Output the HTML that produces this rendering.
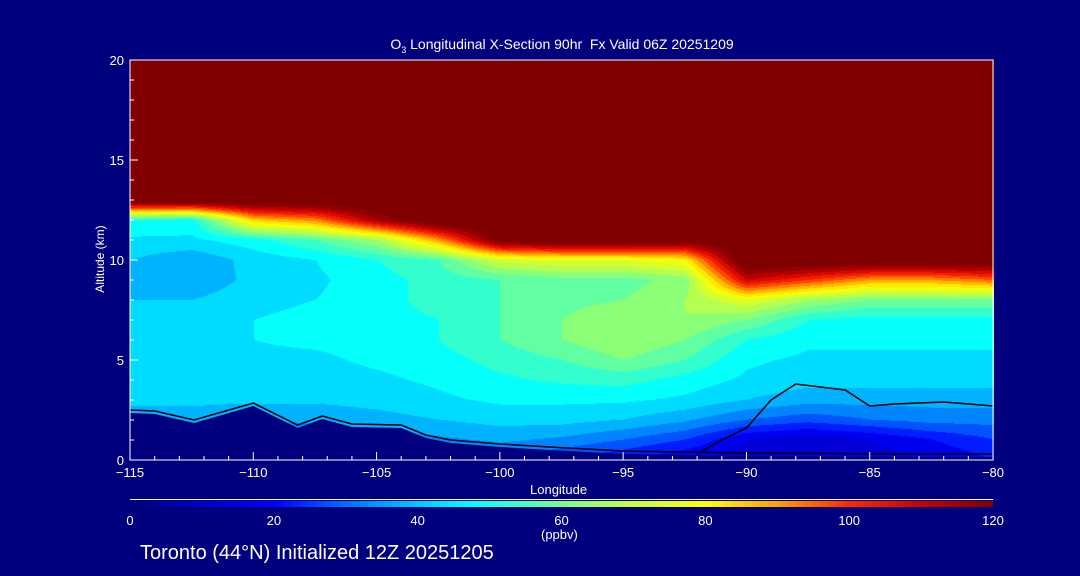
<!DOCTYPE html>
<html><head><meta charset="utf-8"><style>
body{margin:0;background:#00007f;width:1080px;height:576px;overflow:hidden;position:relative;font-family:"Liberation Sans",sans-serif;color:#fff}
canvas{position:absolute;left:130px;top:60px}
svg{position:absolute;left:0;top:0}
</style></head><body>
<canvas id="cv" width="864" height="400"></canvas>
<svg id="sv" width="1080" height="576"></svg>
<script>
const lons=[-115,-112.5,-110,-107.5,-105,-102.5,-100,-97.5,-95,-92.5,-90,-87.5,-85,-82.5,-80];
const alts=[0,1,2,3,4,5,6,7,8,9,10,11,12,13,14,15,16,17,18,19,20];
const ozone=[
[20,20,20,20,20,25,30,25,20,15,12,10,12,15,20],
[32,32,30,30,32,34,36,34,30,25,15,12,15,20,25],
[38,38,36,36,38,40,42,42,40,36,30,27,30,32,32],
[41,41,41,41,42,44,46,46,46,44,40,37,37,37,37],
[42,42,42,43,44,46,49,51,52,48,44,42,42,42,42],
[43,44,44,44,46,48,52,55,60,55,46,44,44,44,44],
[44,44,45,46,47,50,55,60,65,60,50,46,46,46,46],
[43,43,45,46,48,50,55,60,65,65,60,50,48,48,48],
[40,40,44,45,48,52,55,58,60,65,75,65,60,60,60],
[38,35,42,44,48,52,55,58,58,62,110,100,90,90,95],
[40,36,42,45,50,55,72,75,75,80,130,130,130,130,130],
[44,44,48,55,65,90,125,130,130,125,130,130,130,130,130],
[50,48,85,92,115,130,130,130,130,130,130,130,130,130,130],
[130,130,130,130,130,130,130,130,130,130,130,130,130,130,130],
[130,130,130,130,130,130,130,130,130,130,130,130,130,130,130],
[130,130,130,130,130,130,130,130,130,130,130,130,130,130,130],
[130,130,130,130,130,130,130,130,130,130,130,130,130,130,130],
[130,130,130,130,130,130,130,130,130,130,130,130,130,130,130],
[130,130,130,130,130,130,130,130,130,130,130,130,130,130,130],
[130,130,130,130,130,130,130,130,130,130,130,130,130,130,130],
[130,130,130,130,130,130,130,130,130,130,130,130,130,130,130]];
const terrainLon=[-115,-114,-112.4,-110,-108.2,-107.2,-106,-104,-103,-102,-100,-98,-95,-90,-85,-80];
const terrainAlt=[2.35,2.3,1.85,2.7,1.6,2.05,1.65,1.6,1.1,0.85,0.65,0.5,0.3,0.2,0.15,0.15];
const surfLon=[-92,-91,-90,-89,-88,-86,-85,-84,-82,-80];
const surfAlt=[0.3,1.0,1.6,3.0,3.8,3.5,2.7,2.8,2.9,2.7];
const xTicks=[-115,-110,-105,-100,-95,-90,-85,-80];
const yTicks=[0,5,10,15,20];
const cbTicks=[0,20,40,60,80,100,120];
const stops=[[0,0,0,120],[10,0,0,200],[20,0,0,255],[30,0,110,255],[40,0,200,255],[47,0,255,255],[60,120,255,140],[70,200,255,60],[80,255,255,0],[90,255,160,0],[100,255,40,0],[110,200,0,0],[120,128,0,0]];
const X0=130,X1=993,Y0=60,Y1=460;
const xs=l=>X0+(l+115)/35*(X1-X0), ys=a=>Y1-a/20*(Y1-Y0);
function cmap(v){v=Math.max(0,Math.min(120,v));for(let i=1;i<stops.length;i++){if(v<=stops[i][0]){const a=stops[i-1],b=stops[i],t=(v-a[0])/(b[0]-a[0]);return[0,1,2].map(k=>Math.round(a[k+1]+(b[k+1]-a[k+1])*t));}}return[128,0,0];}
function sample(lon,alt){let ci=(lon+115)/2.5,ri=alt;ci=Math.max(0,Math.min(13.999,ci));ri=Math.max(0,Math.min(19.999,ri));const c=Math.floor(ci),r=Math.floor(ri),tx=ci-c,ty=ri-r;
return ozone[r][c]*(1-tx)*(1-ty)+ozone[r][c+1]*tx*(1-ty)+ozone[r+1][c]*(1-tx)*ty+ozone[r+1][c+1]*tx*ty;}
const cv=document.getElementById('cv'),ctx=cv.getContext('2d'),img=ctx.createImageData(864,400);
for(let y=0;y<400;y++)for(let x=0;x<864;x++){const lon=-115+x/863*35,alt=(399-y)/399*20;let v=sample(lon,alt);v=Math.floor(v/5)*5+2.5;const c=cmap(v),i=(y*864+x)*4;img.data[i]=c[0];img.data[i+1]=c[1];img.data[i+2]=c[2];img.data[i+3]=255;}
ctx.putImageData(img,0,0);
const sv=document.getElementById('sv'),NS='http://www.w3.org/2000/svg';
function el(t,a,txt){const e=document.createElementNS(NS,t);for(const k in a)e.setAttribute(k,a[k]);if(txt!==undefined)e.textContent=txt;sv.appendChild(e);return e;}
let tp='M'+xs(-115)+','+Y1;terrainLon.forEach((l,i)=>tp+=' L'+xs(l)+','+ys(terrainAlt[i]));tp+=' L'+X1+','+Y1+'Z';
const ter=el('path',{d:tp,fill:'#00007f'});


let tl='';terrainLon.forEach((l,i)=>tl+=(i?' L':'M')+xs(l)+','+(ys(terrainAlt[i])-3));
const terl=el('path',{d:tl,fill:'none',stroke:'#000','stroke-width':1.5});


let sp='';surfLon.forEach((l,i)=>sp+=(i?' L':'M')+xs(l)+','+ys(surfAlt[i]));
const sc=el('path',{d:sp,fill:'none',stroke:'#000','stroke-width':1.5});


const fr=el('rect',{x:X0,y:Y0,width:X1-X0,height:Y1-Y0,fill:'none',stroke:'#fff','stroke-width':1});


for(let l=-115;l<=-80;l++){const maj=xTicks.includes(l);const t=el('line',{x1:xs(l),x2:xs(l),y1:Y1,y2:Y1-(maj?8:4),stroke:'#fff'});}
xTicks.forEach(l=>{const t=el('text',{x:xs(l),y:Y1+17,'text-anchor':'middle',fill:'#fff','font-size':13},'\u2212'+Math.abs(l));});
for(let a=0;a<=20;a++){const maj=yTicks.includes(a);const t=el('line',{x1:X0,x2:X0+(maj?8:4),y1:ys(a),y2:ys(a),stroke:'#fff'});}
yTicks.forEach(a=>{const t=el('text',{x:X0-6,y:ys(a)+5,'text-anchor':'end',fill:'#fff','font-size':13},a);});
const grad=el('linearGradient',{id:'cb',x1:0,x2:1,y1:0,y2:0});
stops.forEach(s=>{const st=document.createElementNS(NS,'stop');st.setAttribute('offset',s[0]/120);st.setAttribute('stop-color','rgb('+s[1]+','+s[2]+','+s[3]+')');grad.appendChild(st);});
el('line',{x1:X0,x2:X1,y1:499.5,y2:499.5,stroke:'#fff'});
const cb=el('rect',{x:X0,y:501,width:X1-X0,height:6,fill:'url(#cb)'});


cbTicks.forEach(v=>{const t=el('text',{x:X0+v/120*(X1-X0),y:525,'text-anchor':'middle',fill:'#fff','font-size':13},v);});
</script>
<div style="position:absolute;left:0;width:1124px;top:36px;text-align:center;font-size:14px">O<sub style="font-size:9px">3</sub> Longitudinal X-Section 90hr&nbsp; Fx Valid 06Z 20251209</div>
<div style="position:absolute;left:60px;top:252px;font-size:12px;transform:rotate(-90deg);width:80px;text-align:center;transform-origin:center">Altitude (km)</div>
<div style="position:absolute;left:530px;top:482px;font-size:13px">Longitude</div>
<div style="position:absolute;left:541px;top:527px;font-size:13px">(ppbv)</div>
<div style="position:absolute;left:140px;top:542px;font-size:20px">Toronto (44°N) Initialized 12Z 20251205</div>
</body></html>
